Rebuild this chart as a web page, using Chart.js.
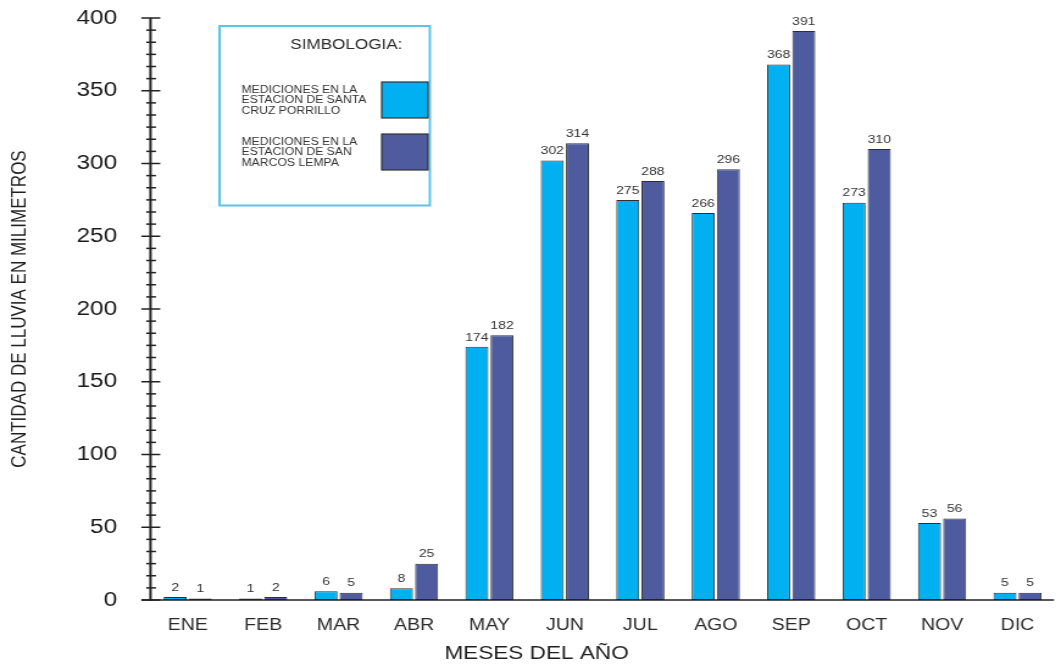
<!DOCTYPE html>
<html>
<head>
<meta charset="utf-8">
<script src="https://cdn.jsdelivr.net/npm/chart.js@4.4.1/dist/chart.umd.min.js"></script>
<style>
  html, body { margin: 0; padding: 0; background: #fff; overflow: hidden; }
  /* the drawing is laid out narrow and widened horizontally */
  #wrap { position: absolute; left: 0; top: 0; width: 870px; height: 667px;
          transform: scaleX(1.2195); transform-origin: 0 0; }
  canvas { display: block; }
</style>
</head>
<body>
<div id="wrap"><canvas id="c" width="870" height="667" style="width:870px;height:667px"></canvas></div>
<script>
// Monthly rainfall (mm) at two stations
const months = ['ENE', 'FEB', 'MAR', 'ABR', 'MAY', 'JUN', 'JUL', 'AGO', 'SEP', 'OCT', 'NOV', 'DIC'];
const santaCruzPorrillo = [2, 1, 6, 8, 174, 302, 275, 266, 368, 273, 53, 5];
const sanMarcosLempa = [1, 2, 5, 25, 182, 314, 288, 296, 391, 310, 56, 5];
const yTicks = [0, 50, 100, 150, 200, 250, 300, 350, 400];
const seriesNames = [
  'MEDICIONES EN LA\nESTACION DE SANTA\nCRUZ PORRILLO',
  'MEDICIONES EN LA\nESTACION DE SAN\nMARCOS LEMPA'
];
const legendTitle = 'SIMBOLOGIA:';
const xTitle = 'MESES DEL AÑO';
const yTitle = 'CANTIDAD DE LLUVIA EN MILIMETROS';

const FONT = '"Liberation Sans", Arial, sans-serif';
Chart.defaults.font.family = FONT;

const MINOR_PER_MAJOR = 6;

const decor = {
  id: 'decor',
  afterDatasetsDraw(chart) {
    const ctx = chart.ctx;
    const xs = chart.scales.x, ys = chart.scales.y;
    const axisX = xs.left + 0.4;
    const base = ys.getPixelForValue(0);
    ctx.save();
    // axes
    ctx.strokeStyle = '#222';
    ctx.lineWidth = 2;
    ctx.beginPath();
    ctx.moveTo(axisX, ys.getPixelForValue(yTicks[yTicks.length - 1]));
    ctx.lineTo(axisX, base + 1);
    ctx.stroke();
    ctx.lineWidth = 1.5;
    ctx.beginPath();
    ctx.moveTo(axisX - 7.5, base);
    ctx.lineTo(xs.right - 1, base);
    ctx.stroke();
    // major and minor ticks crossing the value axis
    for (let i = 0; i < yTicks.length; i++) {
      const py = ys.getPixelForValue(yTicks[i]);
      ctx.beginPath();
      ctx.moveTo(axisX - 7.5, py);
      ctx.lineTo(axisX + 8, py);
      ctx.stroke();
      if (i < yTicks.length - 1) {
        for (let k = 1; k < MINOR_PER_MAJOR; k++) {
          const v = yTicks[i] + (yTicks[i + 1] - yTicks[i]) * k / MINOR_PER_MAJOR;
          const my = ys.getPixelForValue(v);
          ctx.beginPath();
          ctx.moveTo(axisX - 3.5, my);
          ctx.lineTo(axisX + 4.5, my);
          ctx.stroke();
        }
      }
    }
    // value labels above the bars
    ctx.fillStyle = '#333';
    ctx.font = '11.5px ' + FONT;
    ctx.textAlign = 'center';
    ctx.textBaseline = 'middle';
    chart.data.datasets.forEach((ds, di) => {
      chart.getDatasetMeta(di).data.forEach((bar, i) => {
        ctx.fillText(String(ds.data[i]), bar.x, bar.y - 9.5);
      });
    });
    ctx.restore();
  },
  afterDraw(chart) {
    const ctx = chart.ctx;
    ctx.save();
    // category axis title
    ctx.fillStyle = '#1e1e1e';
    ctx.font = '18.5px ' + FONT;
    ctx.textAlign = 'center';
    ctx.textBaseline = 'middle';
    ctx.fillText(xTitle, 440, 654);
    // legend box
    ctx.strokeStyle = '#5cc4e6';
    ctx.lineWidth = 2;
    ctx.strokeRect(180, 26, 172.5, 179.5);
    ctx.fillStyle = '#2a2a2a';
    ctx.font = '14px ' + FONT;
    ctx.fillText(legendTitle, 284, 45);
    ctx.font = '10px ' + FONT;
    ctx.textAlign = 'left';
    const rows = [[90, 82], [142, 134]];
    chart.data.datasets.forEach((ds, di) => {
      const [ty, sy] = rows[di];
      String(ds.label).split('\n').forEach((line, li) => {
        ctx.fillStyle = '#333';
        ctx.fillText(line, 198, ty + li * 10.5);
      });
      ctx.fillStyle = ds.backgroundColor;
      ctx.fillRect(313, sy, 38, 36);
      ctx.strokeStyle = '#333';
      ctx.lineWidth = 1.2;
      ctx.strokeRect(313, sy, 38, 36);
    });
    ctx.restore();
  }
};

new Chart(document.getElementById('c'), {
  type: 'bar',
  data: {
    labels: months,
    datasets: [
      { label: seriesNames[0], data: santaCruzPorrillo, backgroundColor: '#00b0f0',
        borderColor: '#2e2e2e', borderWidth: 1, borderSkipped: false,
        categoryPercentage: 0.667, barPercentage: 0.915 },
      { label: seriesNames[1], data: sanMarcosLempa, backgroundColor: '#4f5b9f',
        borderColor: '#2e2e2e', borderWidth: 1, borderSkipped: false,
        categoryPercentage: 0.667, barPercentage: 0.915 }
    ]
  },
  options: {
    responsive: false,
    animation: false,
    devicePixelRatio: 1,
    layout: { padding: { top: 18, right: 4.7, left: 0, bottom: 0 } },
    plugins: { legend: { display: false }, tooltip: { enabled: false } },
    scales: {
      x: {
        grid: { display: false, drawTicks: false },
        border: { display: false },
        ticks: { color: '#2a2a2a', font: { size: 16 }, padding: 16 },
        afterFit(s) { s.height = 67; s.paddingLeft = 0; s.paddingRight = 0; }
      },
      y: {
        min: yTicks[0],
        max: yTicks[yTicks.length - 1],
        afterBuildTicks(s) { s.ticks = yTicks.map(v => ({ value: v })); },
        grid: { display: false, drawTicks: false },
        border: { display: false },
        ticks: { color: '#1a1a1a', font: { size: 20 }, padding: 27 },
        title: { display: true, text: yTitle, color: '#1e1e1e', font: { size: 17 },
                 padding: { top: 6.5, bottom: 0 } },
        afterFit(s) { s.width = 123; s.paddingTop = 0; s.paddingBottom = 0; }
      }
    }
  },
  plugins: [decor]
});
</script>
</body>
</html>
